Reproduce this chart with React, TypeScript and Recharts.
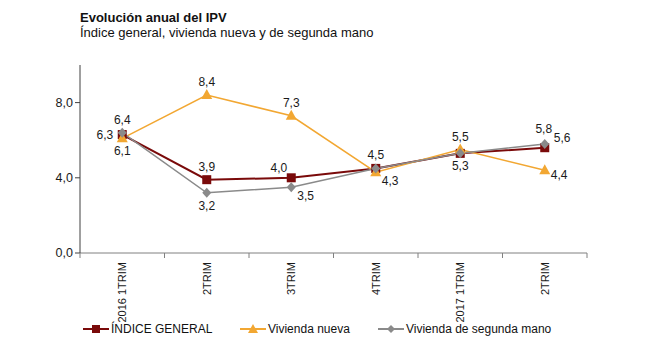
import React from 'react';
import { LineChart, Line, XAxis, YAxis, LabelList } from 'recharts';

const categories = ['2016 1TRIM', '2TRIM', '3TRIM', '4TRIM', '2017 1TRIM', '2TRIM'];
const indiceGeneral = [6.3, 3.9, 4.0, 4.5, 5.3, 5.6];
const viviendaNueva = [6.1, 8.4, 7.3, 4.3, 5.5, 4.4];
const segundaMano = [6.4, 3.2, 3.5, 4.5, 5.3, 5.8];
const yTicks = [0, 4, 8];

// label placement per point (style only)
const posGeneral = ['left', 'top', 'topleft', 'top', 'bottom', 'topright'];
const posNueva = ['bottom', 'top', 'top', 'bottomright', 'top', 'right'];
const posSegunda = ['top', 'bottom', 'bottomright', 'none', 'none', 'topfar'];

const data = categories.map((c, i) => ({
  cat: c,
  idx: i,
  general: indiceGeneral[i],
  nueva: viviendaNueva[i],
  segunda: segundaMano[i],
}));

const W = 667;
const H = 353;
const LEFT = 80;
const RIGHT = 80;
const PLOT_W = W - LEFT - RIGHT;
const BAND = PLOT_W / categories.length;

const RED = '#7a0a0a';
const ORANGE = '#f2a732';
const GRAY = '#8a8a8a';
const FONT = '"Liberation Sans", Arial, sans-serif';

const fmt = (v: number) => v.toFixed(1).replace('.', ',');

const makeLabel = (positions: string[]) => (props: any) => {
  const { x, y, value, index } = props;
  const p = positions[index];
  if (p === 'none') return null;
  let dx = 0;
  let dy = 0;
  let anchor: 'start' | 'middle' | 'end' = 'middle';
  switch (p) {
    case 'top': dy = -9; break;
    case 'topfar': dx = -1; dy = -11; break;
    case 'bottom': dy = 17; break;
    case 'left': dx = -9; dy = 4; anchor = 'end'; break;
    case 'right': dx = 6; dy = 9; anchor = 'start'; break;
    case 'topleft': dx = -4; dy = -6; anchor = 'end'; break;
    case 'topright': dx = 9; dy = -6; anchor = 'start'; break;
    case 'bottomright': dx = 6; dy = 13; anchor = 'start'; break;
  }
  return (
    <text x={x + dx} y={y + dy} textAnchor={anchor} fontSize={12} fontFamily={FONT} fill="#1a1a1a">
      {fmt(value)}
    </text>
  );
};

const Square = (props: any) => {
  const { cx, cy } = props;
  return <rect x={cx - 4.5} y={cy - 4.5} width={9} height={9} fill={RED} />;
};
const Triangle = (props: any) => {
  const { cx, cy } = props;
  return <polygon points={`${cx},${cy - 6} ${cx - 5.5},${cy + 4} ${cx + 5.5},${cy + 4}`} fill={ORANGE} />;
};
const Diamond = (props: any) => {
  const { cx, cy } = props;
  return <polygon points={`${cx},${cy - 5} ${cx + 4.5},${cy} ${cx},${cy + 5} ${cx - 4.5},${cy}`} fill={GRAY} />;
};

const XTick = (props: any) => {
  const { x, y, payload, index } = props;
  const last = index === categories.length - 1;
  return (
    <g>
      <line x1={x - BAND / 2} y1={y} x2={x - BAND / 2} y2={y + 5} stroke="#808080" />
      {last && <line x1={x + BAND / 2} y1={y} x2={x + BAND / 2} y2={y + 5} stroke="#808080" />}
      <text
        transform={`translate(${x},${y + 9}) rotate(-90)`}
        textAnchor="end"
        dy="0.35em"
        fontSize={11}
        fontFamily={FONT}
        fill="#1a1a1a"
      >
        {categories[payload.value]}
      </text>
    </g>
  );
};

const LegendItem = ({ color, marker, label }: { color: string; marker: string; label: string }) => (
  <div style={{ display: 'flex', alignItems: 'center', marginRight: 0 }}>
    <svg width={26} height={12} style={{ marginRight: 2 }}>
      <line x1={0} y1={6} x2={26} y2={6} stroke={color} strokeWidth={2} />
      {marker === 'square' && <rect x={9} y={2} width={8} height={8} fill={color} />}
      {marker === 'triangle' && <polygon points="13,1 8,10 18,10" fill={color} />}
      {marker === 'diamond' && <polygon points="13,2 17,6 13,10 9,6" fill={color} />}
    </svg>
    <span>{label}</span>
  </div>
);

export default function App() {
  return (
    <div style={{ position: 'absolute', left: 0, top: 0, width: W, height: H, background: '#fff', fontFamily: FONT }}>
      <div style={{ position: 'absolute', left: 80, top: 10, fontSize: 13, fontWeight: 'bold', color: '#111', lineHeight: '15px' }}>
        Evolución anual del IPV
      </div>
      <div style={{ position: 'absolute', left: 80, top: 25, fontSize: 13, color: '#111', lineHeight: '15px' }}>
        Índice general, vivienda nueva y de segunda mano
      </div>
      <LineChart
        width={W}
        height={H}
        data={data}
        margin={{ top: 65, right: RIGHT, bottom: 30, left: 0 }}
      >
        <XAxis
          dataKey="idx"
          type="category"
          height={70}
          tickLine={false}
          tickSize={0}
          tickMargin={0}
          stroke="#808080"
          interval={0}
          padding={{ left: BAND / 2, right: BAND / 2 }}
          tick={<XTick />}
        />
        <YAxis
          width={LEFT}
          domain={[0, 10]}
          ticks={yTicks}
          tickFormatter={fmt}
          stroke="#404040"
          tickSize={5}
          tick={{ fontSize: 12.5, fill: '#1a1a1a', fontFamily: FONT }}
          interval={0}
        />
        <Line dataKey="general" stroke={RED} strokeWidth={2} dot={<Square />} isAnimationActive={false}>
          <LabelList dataKey="general" content={makeLabel(posGeneral)} />
        </Line>
        <Line dataKey="nueva" stroke={ORANGE} strokeWidth={1.5} dot={<Triangle />} isAnimationActive={false}>
          <LabelList dataKey="nueva" content={makeLabel(posNueva)} />
        </Line>
        <Line dataKey="segunda" stroke={GRAY} strokeWidth={1.5} dot={<Diamond />} isAnimationActive={false}>
          <LabelList dataKey="segunda" content={makeLabel(posSegunda)} />
        </Line>
      </LineChart>
      <div style={{ position: 'absolute', left: 83, top: 322, fontSize: 12, color: '#111', display: 'flex' }}>
        <div style={{ width: 157 }}><LegendItem color={RED} marker="square" label="ÍNDICE GENERAL" /></div>
        <div style={{ width: 138 }}><LegendItem color={ORANGE} marker="triangle" label="Vivienda nueva" /></div>
        <div><LegendItem color={GRAY} marker="diamond" label="Vivienda de segunda mano" /></div>
      </div>
    </div>
  );
}
